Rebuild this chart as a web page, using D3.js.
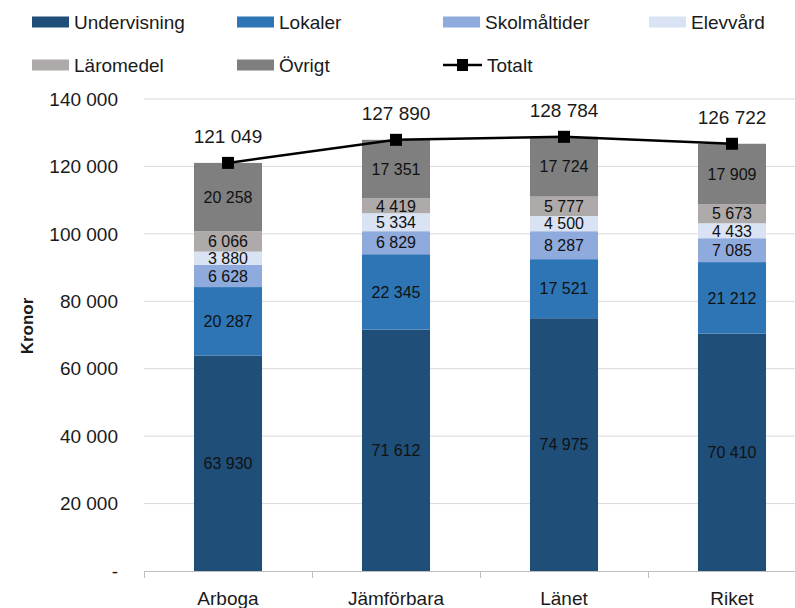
<!DOCTYPE html>
<html>
<head>
<meta charset="utf-8">
<script src="https://cdn.jsdelivr.net/npm/d3@7"></script>
<style>
  body { margin: 0; background: #fff; }
  svg { font-family: "Liberation Sans", Arial, sans-serif; }
</style>
</head>
<body>
<script>
// data
let categories = ["Arboga", "Jämförbara", "Länet", "Riket"];
let seriesNames = ["Undervisning", "Lokaler", "Skolmåltider", "Elevvård", "Läromedel", "Övrigt"];
let undervisning = [63930, 71612, 74975, 70410];
let lokaler = [20287, 22345, 17521, 21212];
let skolmaltider = [6628, 6829, 8287, 7085];
let elevvard = [3880, 5334, 4500, 4433];
let laromedel = [6066, 4419, 5777, 5673];
let ovrigt = [20258, 17351, 17724, 17909];
let totalt = [121049, 127890, 128784, 126722];
let yTicks = [0, 20000, 40000, 60000, 80000, 100000, 120000, 140000];

let colors = ["#1f4e79", "#2e75b6", "#8faadc", "#dae3f3", "#aeaaaa", "#7f7f7f"];

let width = 795, height = 608;
let svg = d3.select("body").append("svg")
    .attr("width", width)
    .attr("height", height);

let loc = d3.formatLocale({ decimal: ",", thousands: "\u00a0", grouping: [3], currency: ["", " kr"] });
let fmt = loc.format(",d");

// rows for the stack
let rows = categories.map((c, i) => ({
    cat: c,
    Undervisning: undervisning[i],
    Lokaler: lokaler[i],
    "Skolmåltider": skolmaltider[i],
    "Elevvård": elevvard[i],
    "Läromedel": laromedel[i],
    "Övrigt": ovrigt[i]
}));
let stacked = d3.stack().keys(seriesNames)(rows);

let x = d3.scaleBand()
    .domain(categories)
    .range([144, 816])
    .paddingInner(0.595)
    .paddingOuter(0.2975);

let y = d3.scaleLinear()
    .domain([0, 140000])
    .range([571, 99]);

// gridlines
svg.append("g")
    .selectAll("line")
    .data(yTicks.filter(d => d > 0))
    .enter().append("line")
    .attr("x1", 144).attr("x2", 816)
    .attr("y1", d => y(d)).attr("y2", d => y(d))
    .attr("stroke", "#d9d9d9")
    .attr("stroke-width", 1);

// y tick labels
svg.append("g")
    .selectAll("text")
    .data(yTicks)
    .enter().append("text")
    .attr("x", 118)
    .attr("y", d => y(d))
    .attr("dy", "0.35em")
    .attr("text-anchor", "end")
    .style("font-size", "19px")
    .attr("fill", "#1a1a1a")
    .text(d => d === 0 ? "-" : fmt(d));

// y title
svg.append("text")
    .attr("transform", "translate(33,326) rotate(-90)")
    .attr("text-anchor", "middle")
    .style("font-size", "17px")
    .style("font-weight", "bold")
    .attr("fill", "#1a1a1a")
    .text("Kronor");

// bars
let layer = svg.append("g")
    .selectAll("g")
    .data(stacked)
    .enter().append("g")
    .attr("fill", (d, i) => colors[i]);

layer.selectAll("rect")
    .data(d => d)
    .enter().append("rect")
    .attr("x", d => x(d.data.cat))
    .attr("width", x.bandwidth())
    .attr("y", d => y(d[1]))
    .attr("height", d => y(d[0]) - y(d[1]));

// segment labels
layer.selectAll("text")
    .data(d => d)
    .enter().append("text")
    .attr("x", d => x(d.data.cat) + x.bandwidth() / 2)
    .attr("y", d => (y(d[0]) + y(d[1])) / 2)
    .attr("dy", "0.36em")
    .attr("text-anchor", "middle")
    .style("font-size", "16px")
    .attr("fill", "#111")
    .text(d => fmt(d[1] - d[0]));

// x axis
let xAxis = svg.append("g");
xAxis.append("line")
    .attr("x1", 144).attr("x2", 816)
    .attr("y1", 571.5).attr("y2", 571.5)
    .attr("stroke", "#bfbfbf");
xAxis.selectAll(".tick")
    .data(d3.range(categories.length + 1))
    .enter().append("line")
    .attr("x1", i => 144.5 + i * x.step())
    .attr("x2", i => 144.5 + i * x.step())
    .attr("y1", 571).attr("y2", 578)
    .attr("stroke", "#bfbfbf");
xAxis.selectAll("text")
    .data(categories)
    .enter().append("text")
    .attr("x", d => x(d) + x.bandwidth() / 2)
    .attr("y", 605)
    .attr("text-anchor", "middle")
    .style("font-size", "19px")
    .attr("fill", "#1a1a1a")
    .text(d => d);

// total line
let line = d3.line()
    .x((d, i) => x(categories[i]) + x.bandwidth() / 2)
    .y(d => y(d));

svg.append("path")
    .datum(totalt)
    .attr("d", line)
    .attr("fill", "none")
    .attr("stroke", "#000")
    .attr("stroke-width", 2.5);

svg.append("g")
    .selectAll("rect")
    .data(totalt)
    .enter().append("rect")
    .attr("x", (d, i) => x(categories[i]) + x.bandwidth() / 2 - 6)
    .attr("y", d => y(d) - 6)
    .attr("width", 12).attr("height", 12)
    .attr("fill", "#000");

svg.append("g")
    .selectAll("text")
    .data(totalt)
    .enter().append("text")
    .attr("x", (d, i) => x(categories[i]) + x.bandwidth() / 2)
    .attr("y", d => y(d) - 20)
    .attr("text-anchor", "middle")
    .style("font-size", "19px")
    .attr("fill", "#1a1a1a")
    .text(d => fmt(d));

// legend
let legendCols = [32, 237, 443, 649];
let legendRows = [22, 65];
let legendItems = seriesNames.concat(["Totalt"]);

let legend = svg.append("g")
    .selectAll("g")
    .data(legendItems)
    .enter().append("g")
    .attr("transform", (d, i) => "translate(" + legendCols[i % 4] + "," + legendRows[Math.floor(i / 4)] + ")");

legend.filter((d, i) => i < seriesNames.length)
    .append("rect")
    .attr("x", 0).attr("y", -5.5)
    .attr("width", 37).attr("height", 11)
    .attr("fill", (d, i) => colors[i]);

let totLegend = legend.filter(d => d === "Totalt");
totLegend.append("line")
    .attr("x1", 0).attr("x2", 39)
    .attr("y1", 0).attr("y2", 0)
    .attr("stroke", "#000")
    .attr("stroke-width", 2.5);
totLegend.append("rect")
    .attr("x", 14).attr("y", -6)
    .attr("width", 11).attr("height", 12)
    .attr("fill", "#000");

legend.append("text")
    .attr("x", d => d === "Totalt" ? 44 : 42)
    .attr("y", 0)
    .attr("dy", "0.36em")
    .style("font-size", "19px")
    .attr("fill", "#1a1a1a")
    .text(d => d);
</script>
</body>
</html>
